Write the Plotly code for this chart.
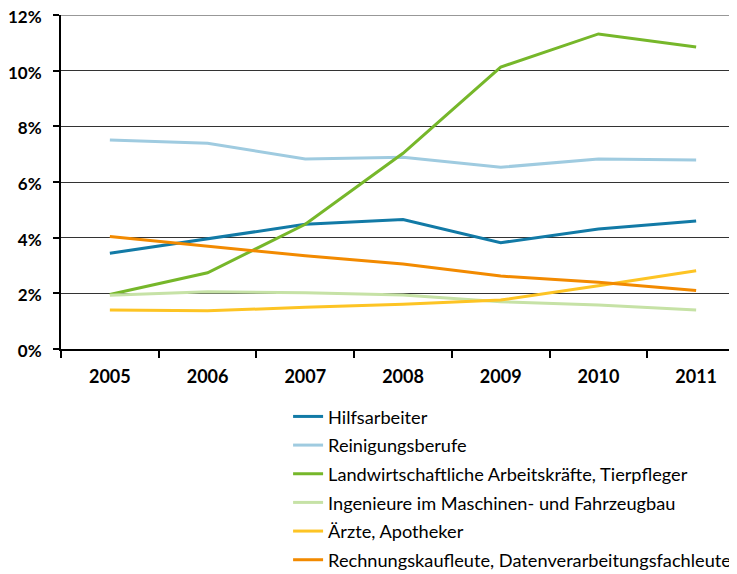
import plotly.graph_objects as go

years = ["2005", "2006", "2007", "2008", "2009", "2010", "2011"]
hilfsarbeiter = [3.44, 3.95, 4.48, 4.65, 3.82, 4.31, 4.60]
reinigung = [7.51, 7.39, 6.83, 6.89, 6.53, 6.83, 6.79]
landwirtschaft = [1.96, 2.74, 4.48, 7.03, 10.13, 11.32, 10.85]
ingenieure = [1.93, 2.06, 2.02, 1.94, 1.70, 1.58, 1.40]
aerzte = [1.40, 1.37, 1.50, 1.61, 1.76, 2.27, 2.81]
rechnung = [4.04, 3.70, 3.35, 3.05, 2.62, 2.40, 2.10]
y_max = 0.12

series = [
    ("Hilfsarbeiter", hilfsarbeiter, "#127aa6"),
    ("Reinigungsberufe", reinigung, "#9fcbe0"),
    ("Landwirtschaftliche Arbeitskräfte, Tierpfleger", landwirtschaft, "#76b72a"),
    ("Ingenieure im Maschinen- und Fahrzeugbau", ingenieure, "#c6e2a6"),
    ("Ärzte, Apotheker", aerzte, "#fdc424"),
    ("Rechnungskaufleute, Datenverarbeitungsfachleute", rechnung, "#f28a00"),
]

fig = go.Figure()
for i, (name, vals, col) in enumerate(series):
    fig.add_trace(go.Scatter(
        x=years, y=[v / 100 for v in vals], name=name, mode="lines",
        line=dict(color=col, width=3), legendgroup=f"g{i}",
    ))

# top gridline (12%) which plotly prunes at the plot edge
fig.add_shape(type="line", xref="paper", yref="y", x0=0, x1=1, y0=y_max, y1=y_max,
              line=dict(color="#333333", width=1), layer="below")

fig.update_layout(
    width=737, height=574,
    margin=dict(l=53, r=0, t=7, b=233, autoexpand=False),
    plot_bgcolor="white", paper_bgcolor="white",
    font=dict(family="Lato, sans-serif", color="black"),
    showlegend=True,
    legend=dict(
        x=0.332, y=-0.147,
        xanchor="left", yanchor="top",
        font=dict(size=18.2, family="Lato, sans-serif", color="black"),
        tracegroupgap=2, bgcolor="rgba(0,0,0,0)",
    ),
)
fig.update_xaxes(
    type="category", range=[-0.5, 6.5], tickson="boundaries",
    ticks="outside", ticklen=7, tickwidth=2, tickcolor="black",
    showline=True, linecolor="black", linewidth=2,
    showgrid=False, tickangle=0,
    tickfont=dict(size=18, family="Lato, sans-serif", weight="bold"),
    ticklabelstandoff=10,
)
fig.update_yaxes(
    range=[0, y_max], dtick=0.02, tickformat=".0%",
    ticks="outside", ticklen=6, tickwidth=2, tickcolor="black",
    showline=True, linecolor="black", linewidth=2,
    showgrid=True, gridcolor="#333333", gridwidth=1,
    zeroline=False, ticklabeloverflow="allow",
    tickfont=dict(size=17, family="Lato, sans-serif", weight="bold"),
    ticklabelstandoff=8, ticklabelshift=2,
)

fig.write_html("out.html")
